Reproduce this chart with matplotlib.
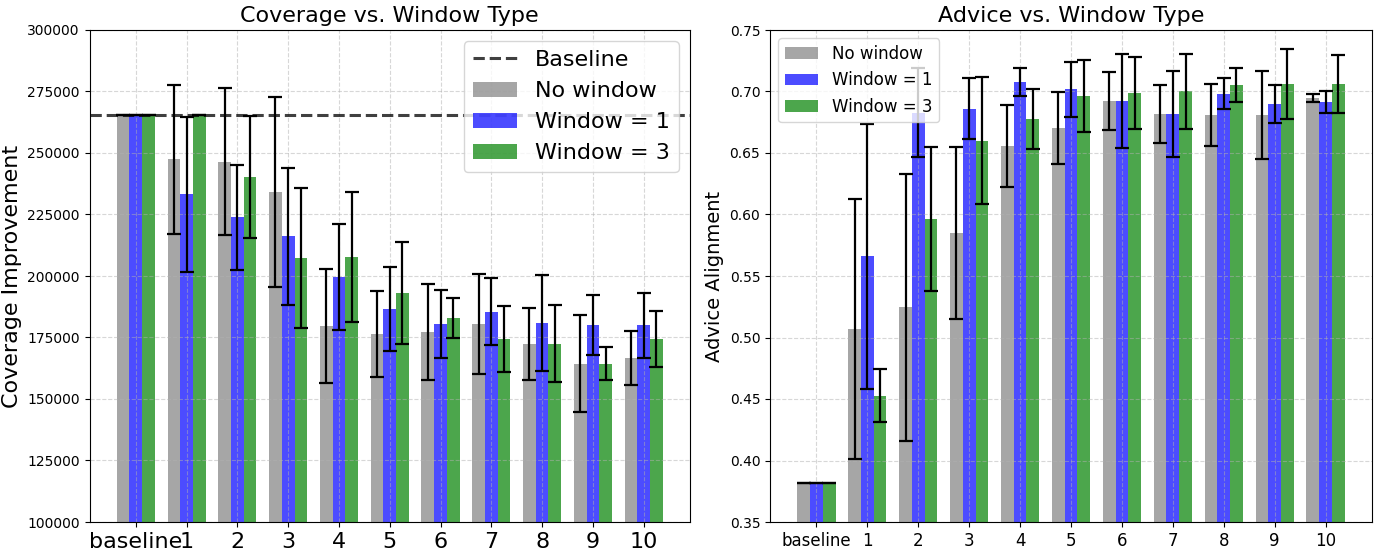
import numpy as np
import matplotlib
matplotlib.use("Agg")
import matplotlib.pyplot as plt

categories = ["baseline", "1", "2", "3", "4", "5", "6", "7", "8", "9", "10"]
series_names = ["No window", "Window = 1", "Window = 3"]
series_colors = ["gray", "blue", "green"]

baseline_coverage = 265400

# Coverage (mean, std)
cov_none = [265400, 247400, 246400, 234000, 179700, 176400, 177100, 180400, 172300, 164300, 166500]
cov_none_std = [0, 30300, 29900, 38600, 23100, 17600, 19500, 20300, 14600, 19700, 11000]
cov_w1 = [265400, 233200, 223800, 216100, 199600, 186500, 180400, 185500, 180800, 180000, 179900]
cov_w1_std = [0, 31500, 21300, 27850, 21500, 17150, 13800, 13600, 19500, 12200, 13200]
cov_w3 = [265400, 265400, 240100, 207300, 207700, 193100, 182900, 174400, 172500, 164400, 174300]
cov_w3_std = [0, 0, 24800, 28450, 26300, 20900, 8100, 13600, 15650, 6700, 11400]

# Advice alignment (mean, std)
adv_none = [0.3815, 0.507, 0.5245, 0.585, 0.6555, 0.6702, 0.6923, 0.6817, 0.6809, 0.6809, 0.6947]
adv_none_std = [0, 0.106, 0.1086, 0.0702, 0.0333, 0.0294, 0.0235, 0.0236, 0.0256, 0.0357, 0.0035]
adv_w1 = [0.3815, 0.566, 0.6826, 0.686, 0.7075, 0.7017, 0.6923, 0.6817, 0.698, 0.6898, 0.6915]
adv_w1_std = [0, 0.1076, 0.0362, 0.0247, 0.0114, 0.0224, 0.038, 0.035, 0.0126, 0.0155, 0.0093]
adv_w3 = [0.3815, 0.4525, 0.5962, 0.660, 0.6775, 0.6962, 0.6988, 0.7001, 0.7053, 0.7061, 0.7061]
adv_w3_std = [0, 0.0216, 0.0588, 0.0515, 0.0243, 0.0293, 0.0293, 0.0305, 0.0141, 0.0285, 0.0236]

x = np.arange(len(categories))
width = 0.25

fig = plt.figure(figsize=(13.76, 5.55), dpi=100)
ax1 = fig.add_axes([89.5 / 1376, 1 - 522 / 555, 600.5 / 1376, 492 / 555])
ax2 = fig.add_axes([770 / 1376, 1 - 522 / 555, 602 / 1376, 492 / 555])

err_kw = dict(ecolor="black", elinewidth=1.6, capthick=1.6)

# 左: Coverage
cov_means = [cov_none, cov_w1, cov_w3]
cov_stds = [cov_none_std, cov_w1_std, cov_w3_std]
ax1.axhline(baseline_coverage, color="black", linestyle="--", linewidth=2.2, alpha=0.75, label="Baseline")
for i in range(3):
    ax1.bar(x + (i - 1) * width, cov_means[i], width, yerr=cov_stds[i], capsize=5,
            color=series_colors[i], alpha=0.7, label=series_names[i], error_kw=err_kw)
ax1.set_ylim(100000, 300000)
ax1.set_xticks(x)
ax1.set_xticklabels(categories, fontsize=16)
ax1.tick_params(axis="y", labelsize=10)
ax1.set_ylabel("Coverage Improvement", fontsize=16)
ax1.set_title("Coverage vs. Window Type", fontsize=16)
ax1.grid(True, linestyle="--", alpha=0.5)
ax1.legend(fontsize=16, loc="upper right")

# 右: Advice
adv_means = [adv_none, adv_w1, adv_w3]
adv_stds = [adv_none_std, adv_w1_std, adv_w3_std]
for i in range(3):
    ax2.bar(x + (i - 1) * width, adv_means[i], width, yerr=adv_stds[i], capsize=5,
            color=series_colors[i], alpha=0.7, label=series_names[i], error_kw=err_kw)
ax2.set_ylim(0.35, 0.75)
ax2.set_xticks(x)
ax2.set_xticklabels(categories, fontsize=12)
ax2.tick_params(axis="y", labelsize=10)
ax2.set_ylabel("Advice Alignment", fontsize=14)
ax2.set_title("Advice vs. Window Type", fontsize=16)
ax2.grid(True, linestyle="--", alpha=0.5)
ax2.legend(fontsize=12, loc="upper left")

fig.savefig("out.png", dpi=100)
